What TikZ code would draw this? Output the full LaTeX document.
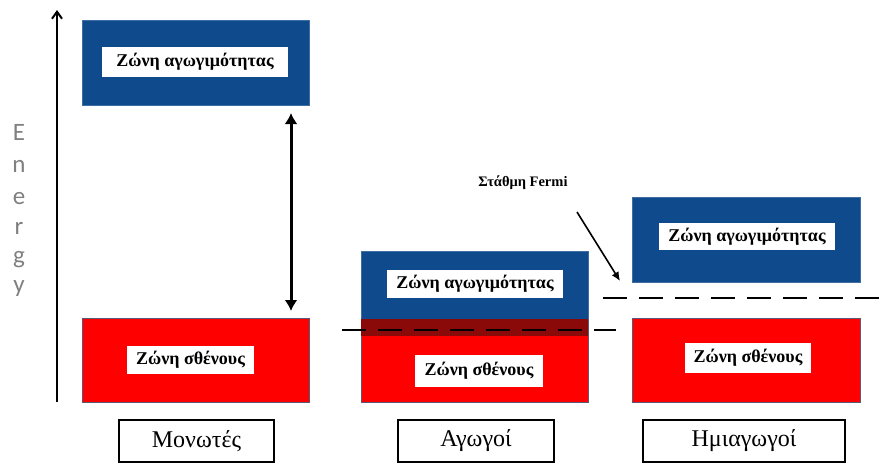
\documentclass[tikz,border=0pt]{standalone}
\usepackage{fontspec}
\setmainfont{Liberation Serif}
\newfontfamily\enfont{Carlito}
\usetikzlibrary{arrows.meta}
\definecolor{bandblue}{HTML}{0E4A8C}
\definecolor{bandred}{HTML}{FF0000}
\definecolor{bandedge}{HTML}{5A5A78}
\definecolor{overlap}{HTML}{8A0A0A}
\tikzset{
  cband/.style={fill=bandblue, draw=bandblue!80!white, line width=0.8pt},
  vband/.style={fill=bandred, draw=bandedge, line width=0.8pt},
  bandlabel/.style={fill=white, inner sep=0pt, font=\bfseries\fontsize{18}{20}\selectfont},
  kindbox/.style={draw=black, line width=1.3pt, fill=white, inner sep=0pt, font=\fontsize{24}{26}\selectfont},
  fermidash/.style={line width=1.8pt, dash pattern=on 24pt off 12pt},
  enletter/.style={text=gray, anchor=base, font=\enfont\fontsize{25}{26}\selectfont, inner sep=0pt},
}
\begin{document}
\begin{tikzpicture}[x=1pt,y=-1pt]
\useasboundingbox (0,0) rectangle (888,466);
% axis
\coordinate (axb) at (57,402);
\coordinate (axt) at (57,10);
\draw[line width=2pt, -{Straight Barb[length=7pt,width=10pt]}] (axb) -- (axt);
\node[enletter] (e1) at (19,140) {E};
\node[enletter] (e2) at (19,172) {n};
\node[enletter] (e3) at (19,204) {e};
\node[enletter] (e4) at (19,234) {r};
\node[enletter] (e5) at (19,263) {g};
\node[enletter] (e6) at (19,292) {y};

% Insulators
\node[cband, minimum width=227pt, minimum height=85pt, inner sep=0pt] (c1) at (195.5,62.5) {};
\node[bandlabel, minimum width=186pt, minimum height=30pt] (c1l) at (195,62) {Ζώνη αγωγιμότητας};
\node[vband, minimum width=227pt, minimum height=84pt, inner sep=0pt] (v1) at (195.5,360) {};
\node[bandlabel, minimum width=127pt, minimum height=28pt] (v1l) at (190.5,360) {Ζώνη σθένους};
\coordinate (g1) at (291,113);
\coordinate (g2) at (291,311);
\draw[line width=3pt, {Latex[length=11pt,width=13pt]}-{Latex[length=11pt,width=13pt]}] (g1) -- (g2);

% Conductors
\node[vband, minimum width=227pt, minimum height=83pt, inner sep=0pt] (v2) at (474.5,360.5) {};
\node[cband, minimum width=227pt, minimum height=68pt, inner sep=0pt] (c2) at (474.5,285) {};
\fill[overlap] (c2.south west) rectangle ([yshift=-17pt]c2.south east);
\node[bandlabel, minimum width=176pt, minimum height=28pt] (c2l) at (475,284) {Ζώνη αγωγιμότητας};
\node[bandlabel, minimum width=128pt, minimum height=32pt] (v2l) at (479,371) {Ζώνη σθένους};

% Semiconductors
\node[cband, minimum width=228pt, minimum height=85pt, inner sep=0pt] (c3) at (746,239.5) {};
\node[bandlabel, minimum width=176pt, minimum height=27pt] (c3l) at (747,236.5) {Ζώνη αγωγιμότητας};
\node[vband, minimum width=228pt, minimum height=84pt, inner sep=0pt] (v3) at (746,360) {};
\node[bandlabel, minimum width=126pt, minimum height=30pt] (v3l) at (748,358) {Ζώνη σθένους};

% Fermi levels
\coordinate (f1a) at (342,330);
\coordinate (f1b) at (616,330);
\draw[fermidash] (f1a) -- (f1b);
\coordinate (f2a) at (603,298);
\coordinate (f2b) at (888,298);
\draw[fermidash] (f2a) -- (f2b);
\node[font=\bfseries\fontsize{14.5}{16}\selectfont] (fermi) at (523,183) {Στάθμη Fermi};
\coordinate (fa) at (577,212);
\coordinate (fb) at (620,281);
\draw[line width=1.6pt, -{Latex[length=9pt,width=8pt]}] (fa) -- (fb);

% material labels
\node[kindbox, minimum width=155pt, minimum height=42pt] (k1) at (196.5,441) {Μονωτές};
\node[kindbox, minimum width=156pt, minimum height=42pt] (k2) at (476,441) {Αγωγοί};
\node[kindbox, minimum width=202pt, minimum height=42pt] (k3) at (744,441) {Ημιαγωγοί};
\end{tikzpicture}
\end{document}
